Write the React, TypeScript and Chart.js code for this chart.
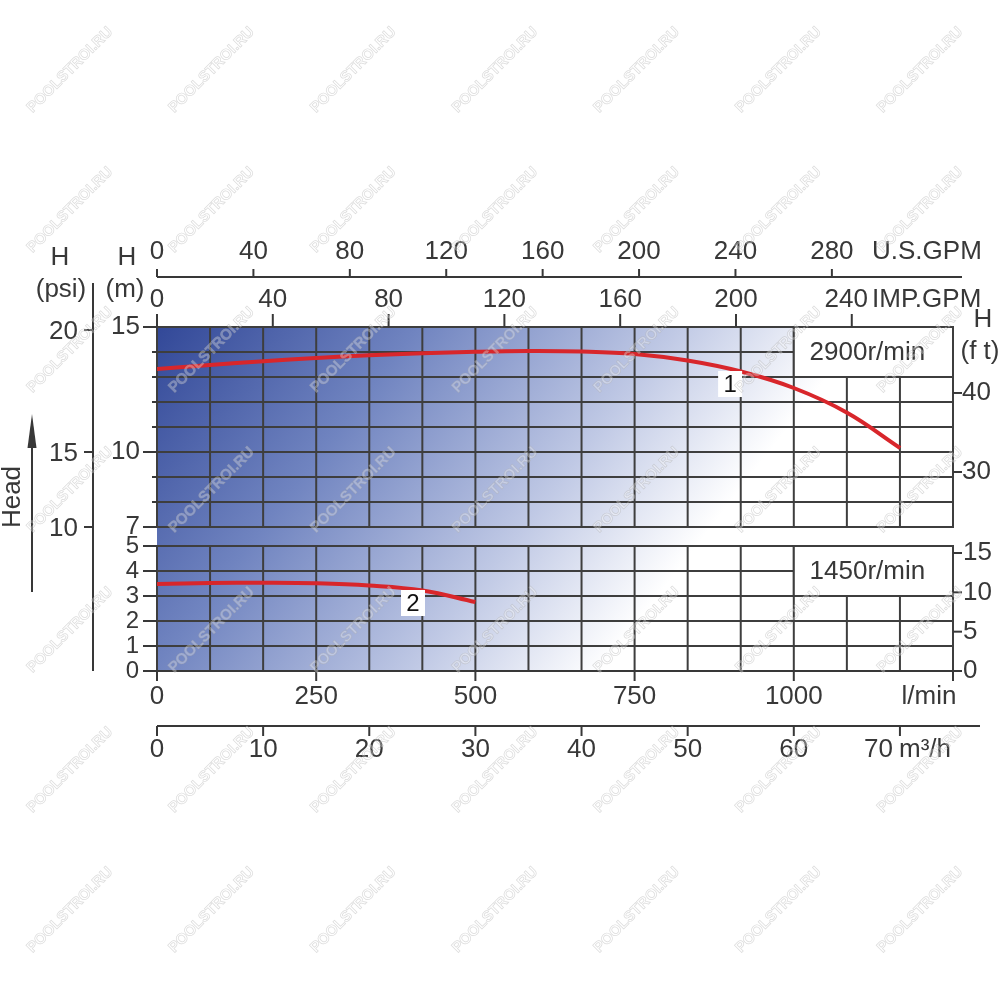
import React, { useEffect, useRef } from 'react';
import Chart from 'chart.js/auto';

// curve 1 - 2900 r/min (flow l/min, head m)
const flow1 = [0, 83, 167, 250, 333, 417, 500, 583, 667, 750, 833, 917, 1000, 1083, 1167];
const head1 = [13.32, 13.48, 13.63, 13.76, 13.87, 13.95, 14.01, 14.04, 14.02, 13.92, 13.66, 13.22, 12.56, 11.58, 10.16];
// curve 2 - 1450 r/min
const flow2 = [0, 83, 167, 250, 333, 417, 500];
const head2 = [3.48, 3.52, 3.53, 3.51, 3.42, 3.22, 2.76];

const flowMax = 1250;
const flowTicks = [0, 250, 500, 750, 1000];
const usGpmTicks = [0, 40, 80, 120, 160, 200, 240, 280];
const impGpmTicks = [0, 40, 80, 120, 160, 200, 240];
const m3hTicks = [0, 10, 20, 30, 40, 50, 60];
const headTopTicks = [15, 10, 7];
const headBotTicks = [5, 4, 3, 2, 1, 0];
const ftTopTicks = [40, 30];
const ftBotTicks = [15, 10, 5, 0];
const psiTicks = ['20', '15', '10'];
const psiAtHead = [14.88, 10, 7]; // where the drawing puts the psi marks, in m

const curveTags = [
  { text: '1', flow: 900, head: 12.72, axis: 'yTop' },
  { text: '2', flow: 402, head: 2.72, axis: 'yBot' },
];
const speedTags = [
  { text: '2900r/min', axis: 'yTop', from: 13, to: 15 },
  { text: '1450r/min', axis: 'yBot', from: 3, to: 5 },
];

const INK = '#383838';
const GRID = '#3e3e3e';
const RED = '#d8262b';
const FONT = '"Liberation Sans", Arial, sans-serif';

function label(ctx: CanvasRenderingContext2D, s: string, x: number, y: number, align: CanvasTextAlign = 'center', size = 26) {
  ctx.font = `${size}px ${FONT}`;
  ctx.textAlign = align;
  ctx.textBaseline = 'middle';
  ctx.fillStyle = INK;
  ctx.fillText(s, x, y);
}

function line(ctx: CanvasRenderingContext2D, x1: number, y1: number, x2: number, y2: number) {
  ctx.beginPath();
  ctx.moveTo(x1, y1);
  ctx.lineTo(x2, y2);
  ctx.stroke();
}

const decor = {
  id: 'pumpDecor',
  beforeDatasetsDraw(chart: any) {
    const { ctx, scales } = chart;
    const x = scales.x, yT = scales.yTop, yB = scales.yBot;
    const left = x.getPixelForValue(0), right = x.getPixelForValue(flowMax);
    const top = yT.getPixelForValue(15), bottom = yB.getPixelForValue(0);
    ctx.save();

    // blue fade background
    const g = ctx.createLinearGradient(left, top, left + 467, top + 361);
    g.addColorStop(0, 'rgb(50,72,152)');
    g.addColorStop(0.35, 'rgb(112,132,192)');
    g.addColorStop(0.7, 'rgb(192,201,229)');
    g.addColorStop(0.95, 'rgb(255,255,255)');
    ctx.fillStyle = g;
    ctx.fillRect(left, top, right - left, bottom - top);

    // grid, two panels
    ctx.strokeStyle = GRID;
    ctx.lineWidth = 2;
    const panels: [any, number, number][] = [[yT, 7, 15], [yB, 0, 5]];
    panels.forEach(([s, lo, hi]) => {
      const yHi = s.getPixelForValue(hi), yLo = s.getPixelForValue(lo);
      for (let v = lo; v <= hi; v++) {
        const py = s.getPixelForValue(v);
        line(ctx, left, py, right, py);
      }
      for (let i = 0; i <= 15; i++) {
        const px = x.getPixelForValue((i * flowMax) / 15);
        line(ctx, px, yHi - 1, px, yLo + 1);
      }
    });

    // speed boxes
    speedTags.forEach((t) => {
      const s = scales[t.axis];
      const bx = x.getPixelForValue(1000), by = s.getPixelForValue(t.to);
      const bw = right - bx, bh = s.getPixelForValue(t.from) - by;
      ctx.fillStyle = '#fff';
      ctx.fillRect(bx, by, bw, bh);
      ctx.strokeRect(bx, by, bw, bh);
      label(ctx, t.text, bx + bw / 2 - 6, by + bh / 2 + 1);
    });
    ctx.restore();
  },
  afterDatasetsDraw(chart: any) {
    const { ctx, scales } = chart;
    const x = scales.x, yT = scales.yTop, yB = scales.yBot;
    const left = x.getPixelForValue(0), right = x.getPixelForValue(flowMax);
    const top = yT.getPixelForValue(15), bottom = yB.getPixelForValue(0);
    ctx.save();

    // curve numbers
    curveTags.forEach((t) => {
      const cx = x.getPixelForValue(t.flow), cy = scales[t.axis].getPixelForValue(t.head);
      ctx.fillStyle = '#fff';
      ctx.fillRect(cx - 12, cy - 13, 24, 26);
      ctx.font = `24px ${FONT}`;
      ctx.textAlign = 'center';
      ctx.textBaseline = 'middle';
      ctx.fillStyle = '#111';
      ctx.fillText(t.text, cx, cy + 1);
    });

    ctx.strokeStyle = INK;
    ctx.lineWidth = 2;

    // U.S.GPM axis
    const usY = 277;
    line(ctx, left, usY, 962, usY);
    usGpmTicks.forEach((v) => {
      const px = scales.xUs.getPixelForValue(v);
      line(ctx, px, usY - 8, px, usY);
      label(ctx, String(v), px, 252);
    });
    label(ctx, 'U.S.GPM', 872, 252, 'left');

    // IMP.GPM ticks hanging on the plot top
    impGpmTicks.forEach((v) => {
      const px = scales.xImp.getPixelForValue(v);
      line(ctx, px, top - 13, px, top);
      if (v === 240) label(ctx, String(v), 868, 300, 'right');
      else label(ctx, String(v), px, 300);
    });
    label(ctx, 'IMP.GPM', 872, 300, 'left');

    // l/min axis
    line(ctx, left - 14, bottom, right, bottom);
    flowTicks.forEach((v) => {
      const px = x.getPixelForValue(v);
      line(ctx, px, bottom, px, bottom + 10);
      label(ctx, String(v), px, 697);
    });
    line(ctx, right, bottom, right, bottom + 10);
    label(ctx, 'l/min', 929, 697);

    // m3/h axis
    const mY = 726;
    line(ctx, left, mY, 980, mY);
    m3hTicks.concat([70]).forEach((v) => {
      const px = scales.xM3.getPixelForValue(v);
      line(ctx, px, mY, px, mY + 10);
      if (v < 70) label(ctx, String(v), px, 750);
    });
    label(ctx, '70', 893, 750, 'right');
    label(ctx, 'm³/h', 899, 750, 'left');

    // head in m, left
    headTopTicks.forEach((v) => {
      const py = yT.getPixelForValue(v);
      line(ctx, left - 14, py, left, py);
      label(ctx, String(v), 140, py, 'right');
    });
    [14, 13, 12, 11, 9, 8].forEach((v) => {
      const py = yT.getPixelForValue(v);
      line(ctx, left - 5, py, left, py);
    });
    headBotTicks.forEach((v) => {
      const py = yB.getPixelForValue(v);
      line(ctx, left - 14, py, left, py);
      label(ctx, String(v), 139, py, 'right', 24);
    });
    label(ctx, 'H', 127, 258);
    label(ctx, '(m)', 125, 290);

    // head in psi
    line(ctx, 93, 283, 93, bottom);
    psiTicks.forEach((t, i) => {
      const py = yT.getPixelForValue(psiAtHead[i]);
      line(ctx, 84, py, 93, py);
      label(ctx, t, 78, py + 2, 'right');
    });
    label(ctx, 'H', 60, 258);
    label(ctx, '(psi)', 61, 290);

    // head in ft, right
    ftTopTicks.forEach((v) => {
      const py = scales.ftTop.getPixelForValue(v);
      line(ctx, right, py, right + 9, py);
      label(ctx, String(v), 962, py, 'left');
    });
    ftBotTicks.forEach((v) => {
      const py = scales.ftBot.getPixelForValue(v);
      line(ctx, right, py, right + 9, py);
      label(ctx, String(v), 963, py, 'left');
    });
    label(ctx, 'H', 983, 320);
    label(ctx, '(f t)', 980, 352);

    // Head arrow
    ctx.fillStyle = INK;
    line(ctx, 32, 592, 32, 440);
    ctx.beginPath();
    ctx.moveTo(32, 414);
    ctx.lineTo(27.5, 448);
    ctx.lineTo(36.5, 448);
    ctx.closePath();
    ctx.fill();
    ctx.save();
    ctx.translate(13, 497);
    ctx.rotate(-Math.PI / 2);
    label(ctx, 'Head', 0, 0);
    ctx.restore();

    // watermark
    ctx.font = `bold 15px ${FONT}`;
    ctx.textAlign = 'center';
    ctx.textBaseline = 'middle';
    ctx.lineWidth = 0.7;
    for (let r = 0; r < 7; r++) {
      for (let c = 0; c < 7; c++) {
        ctx.save();
        ctx.translate(70 + c * 141.7, 70 + r * 140);
        ctx.rotate(-Math.PI / 4);
        ctx.fillStyle = 'rgba(255,255,255,0.3)';
        ctx.fillText('POOLSTROI.RU', 0, 0);
        ctx.strokeStyle = 'rgba(170,170,170,0.42)';
        ctx.strokeText('POOLSTROI.RU', 0, 0);
        ctx.restore();
      }
    }
    ctx.restore();
  },
};

export default function App() {
  const canvasRef = useRef<HTMLCanvasElement>(null);

  useEffect(() => {
    document.body.style.margin = '0';
    const canvas = canvasRef.current;
    if (!canvas) return;

    const hidden = { display: false };
    const chart = new Chart(canvas, {
      type: 'line',
      data: {
        datasets: [
          {
            label: '2900r/min',
            data: flow1.map((q, i) => ({ x: q, y: head1[i] })),
            yAxisID: 'yTop',
            borderColor: RED,
            borderWidth: 4,
            pointRadius: 0,
            tension: 0.4,
          },
          {
            label: '1450r/min',
            data: flow2.map((q, i) => ({ x: q, y: head2[i] })),
            yAxisID: 'yBot',
            borderColor: RED,
            borderWidth: 4,
            pointRadius: 0,
            tension: 0.4,
          },
        ],
      },
      options: {
        responsive: false,
        animation: false,
        layout: { padding: { left: 157, top: 327, right: 47, bottom: 329 } },
        plugins: { legend: { display: false }, tooltip: { enabled: false } },
        scales: {
          x: { type: 'linear', min: 0, max: flowMax, ...hidden },
          xUs: { type: 'linear', axis: 'x', min: 0, max: flowMax / 3.785, ...hidden },
          xImp: { type: 'linear', axis: 'x', min: 0, max: flowMax / 4.546, ...hidden },
          xM3: { type: 'linear', axis: 'x', min: 0, max: (flowMax * 60) / 1000, ...hidden },
          yTop: { type: 'linear', min: 15 - 344 / 25, max: 15, ...hidden },
          yBot: { type: 'linear', min: 0, max: 344 / 25, ...hidden },
          ftTop: { type: 'linear', axis: 'y', min: 4.81, max: 48.35, ...hidden },
          ftBot: { type: 'linear', axis: 'y', min: 0, max: 43.73, ...hidden },
        },
      },
      plugins: [decor],
    });

    return () => chart.destroy();
  }, []);

  return (
    <div style={{ width: 1000, height: 1000, background: '#fff' }}>
      <canvas ref={canvasRef} width={1000} height={1000} />
    </div>
  );
}
